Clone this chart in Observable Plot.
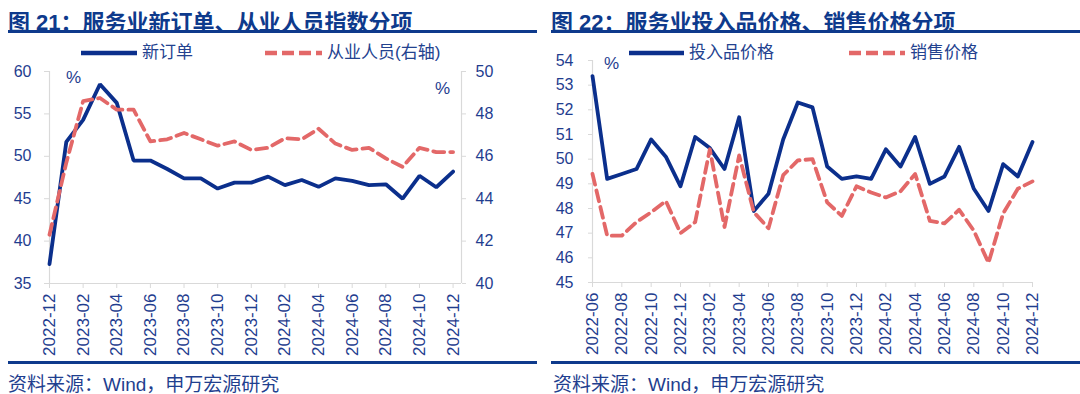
<!DOCTYPE html>
<html><head><meta charset="utf-8">
<script src="https://cdn.jsdelivr.net/npm/d3@7"></script>
<script src="https://cdn.jsdelivr.net/npm/@observablehq/plot@0.6"></script>
<style>
html,body{margin:0;padding:0;background:#fff;}
body{width:1080px;height:394px;position:relative;overflow:hidden;font-family:"Liberation Sans","Noto Sans CJK SC",Arial,sans-serif;}
.title{top:4px;font-size:22px;font-weight:bold;color:#0e3a8c;white-space:nowrap;font-family:"Liberation Sans","Noto Sans CJK SC",sans-serif;}
.bar{height:3px;background:#0e3a8c;}
.src{top:369px;font-size:19px;color:#1f3f8f;white-space:nowrap;}
.leg{font-size:17px;color:#23428f;white-space:nowrap;line-height:20px;}
.pct{font-size:17px;color:#1f3d8f;}
</style>
</head><body>
<script>
// ---- Data: Figure 21 ----
const months1 = ["2022-12","2023-01","2023-02","2023-03","2023-04","2023-05","2023-06","2023-07","2023-08","2023-09","2023-10","2023-11","2023-12","2024-01","2024-02","2024-03","2024-04","2024-05","2024-06","2024-07","2024-08","2024-09","2024-10","2024-11","2024-12"];
const newOrders = [37.3,51.7,54.3,58.5,56.3,49.5,49.5,48.5,47.4,47.4,46.2,46.9,46.9,47.6,46.6,47.2,46.4,47.4,47.1,46.6,46.7,45.0,47.7,46.35,48.2];
const employment = [42.3,45.7,48.6,48.75,48.2,48.2,46.7,46.8,47.1,46.8,46.5,46.7,46.3,46.4,46.85,46.8,47.3,46.6,46.3,46.4,45.9,45.5,46.4,46.2,46.2];
const leftTicks1 = [35,40,45,50,55,60];
const rightTicks1 = [40,42,44,46,48,50];

// ---- Data: Figure 22 ----
const months2 = ["2022-06","2022-07","2022-08","2022-09","2022-10","2022-11","2022-12","2023-01","2023-02","2023-03","2023-04","2023-05","2023-06","2023-07","2023-08","2023-09","2023-10","2023-11","2023-12","2024-01","2024-02","2024-03","2024-04","2024-05","2024-06","2024-07","2024-08","2024-09","2024-10","2024-11","2024-12"];
const inputPrice = [53.37,49.2,49.4,49.6,50.8,50.1,48.9,50.9,50.45,49.6,51.7,47.9,48.6,50.8,52.3,52.1,49.7,49.2,49.3,49.2,50.4,49.7,50.9,49.0,49.3,50.5,48.8,47.9,49.8,49.3,50.7];
const salesPrice = [49.4,46.9,46.9,47.45,47.85,48.3,47.0,47.45,50.4,47.25,50.15,47.85,47.2,49.35,49.95,50.0,48.25,47.7,48.9,48.65,48.45,48.7,49.4,47.5,47.4,47.95,47.1,45.8,47.8,48.8,49.1];
const yTicks2 = [45,46,47,48,49,50,51,52,53,54];

const titles = ["图 21：服务业新订单、从业人员指数分项","图 22：服务业投入品价格、销售价格分项"];
const source = "资料来源：Wind，申万宏源研究";
const legend1 = ["新订单","从业人员(右轴)"];
const legend2 = ["投入品价格","销售价格"];

const FONT = '"Liberation Sans","Noto Sans CJK SC",Arial,sans-serif';
const TXT = "#1f3d8f", GRAY = "#d9d9d9", BLUE = "#0b2f8c", RED = "#e36868";
const DASH = "11,6";
const LW = 3.8;

function el(html){const d=document.createElement("div");d.innerHTML=html;return d.firstElementChild;}
function place(node,left,top){node.style.position="absolute";node.style.left=left+"px";node.style.top=top+"px";document.body.appendChild(node);return node;}

const baseStyle = {background:"transparent",fontFamily:FONT,fontSize:"16px",color:TXT,overflow:"visible"};

// ----- Chart 1 -----
const d1 = months1.map((m,i)=>({i, m, v:newOrders[i], e:employment[i]}));
const xTicks1 = months1.map((m,i)=>i).filter(i=>i%2===0);
const c1 = Plot.plot({
  width:540,height:320,marginTop:31,marginBottom:77,marginLeft:49,marginRight:79,
  style:baseStyle,
  x:{domain:[0,24.5]},
  y:{domain:[35,60]},
  marks:[
    Plot.ruleY([35],{stroke:GRAY,strokeWidth:1.2}),
    Plot.ruleX([0],{stroke:GRAY,strokeWidth:1.2}),
    Plot.ruleX([24.5],{stroke:GRAY,strokeWidth:1.2}),
    Plot.axisY({ticks:leftTicks1,tickSize:5,tickPadding:13,stroke:GRAY,fill:TXT,label:null}),
    Plot.axisX({ticks:xTicks1,tickFormat:i=>months1[i],tickRotate:-90,tickSize:5,tickPadding:5,fontSize:17,stroke:GRAY,fill:TXT,label:null}),
    Plot.lineY(d1,{x:"i",y:"v",stroke:BLUE,strokeWidth:LW,strokeLinejoin:"miter"})
  ]
});
place(c1,0,40);
const c1b = Plot.plot({
  width:540,height:320,marginTop:31,marginBottom:77,marginLeft:49,marginRight:79,
  style:baseStyle,
  x:{domain:[0,24.5],axis:null},
  y:{domain:[40,50]},
  marks:[
    Plot.axisY({anchor:"right",ticks:rightTicks1,tickSize:4,tickPadding:10,stroke:GRAY,fill:TXT,label:null}),
    Plot.lineY(d1,{x:"i",y:"e",stroke:RED,strokeWidth:LW,strokeDasharray:DASH})
  ]
});
place(c1b,0,40);

// ----- Chart 2 -----
const d2 = months2.map((m,i)=>({i, m, a:inputPrice[i], b:salesPrice[i]}));
const xTicks2 = months2.map((m,i)=>i).filter(i=>i%2===0);
const c2 = Plot.plot({
  width:540,height:320,marginTop:20,marginBottom:78,marginLeft:52,marginRight:48,
  style:baseStyle,
  x:{domain:[0,30]},
  y:{domain:[45,54]},
  marks:[
    Plot.ruleY([45],{stroke:GRAY,strokeWidth:1.2}),
    Plot.ruleX([0],{stroke:GRAY,strokeWidth:1.2}),
    Plot.axisY({ticks:yTicks2,tickSize:4,tickPadding:15,stroke:GRAY,fill:TXT,label:null}),
    Plot.axisX({ticks:xTicks2,tickFormat:i=>months2[i],tickRotate:-90,tickSize:5,tickPadding:5,fontSize:17,stroke:GRAY,fill:TXT,label:null}),
    Plot.lineY(d2,{x:"i",y:"a",stroke:BLUE,strokeWidth:LW}),
    Plot.lineY(d2,{x:"i",y:"b",stroke:RED,strokeWidth:LW,strokeDasharray:DASH})
  ]
});
place(c2,540,40);

// ----- Titles, rules, legends, source -----
function titleBlock(x0,x1,t){
  place(el(`<div class="title">${t}</div>`),x0,4);
  const b=el(`<div class="bar"></div>`);b.style.width=(x1-x0)+"px";place(b,x0,30);
}
titleBlock(8,537,titles[0]);
titleBlock(551,1080,titles[1]);
[[8,537],[551,1080]].forEach(([a,b])=>{const n=el(`<div class="bar"></div>`);n.style.width=(b-a)+"px";place(n,a,361);});
place(el(`<div class="src">${source}</div>`),8,369);
place(el(`<div class="src">${source}</div>`),553,369);

function legItem(x,y,len,dashed,label){
  const s = dashed
    ? `<svg width="${len}" height="8" style="position:absolute;left:0;top:6px"><line x1="0" y1="4" x2="${len}" y2="4" stroke="${RED}" stroke-width="4.5" stroke-dasharray="12,5"/></svg>`
    : `<svg width="${len}" height="8" style="position:absolute;left:0;top:6px"><line x1="0" y1="4" x2="${len}" y2="4" stroke="${BLUE}" stroke-width="4.5"/></svg>`;
  const n = el(`<div class="leg" style="height:20px;width:300px">${s}<span style="position:absolute;left:${len+5}px;top:0">${label}</span></div>`);
  place(n,x,y);
}
legItem(81,43,56,false,legend1[0]);
legItem(265,43,57,true,legend1[1]);
legItem(629,43,55,false,legend2[0]);
legItem(849,43,56,true,legend2[1]);

place(el(`<div class="pct">%</div>`),66,68);
place(el(`<div class="pct">%</div>`),435,79);
place(el(`<div class="pct">%</div>`),604,54);
</script>
</body></html>
